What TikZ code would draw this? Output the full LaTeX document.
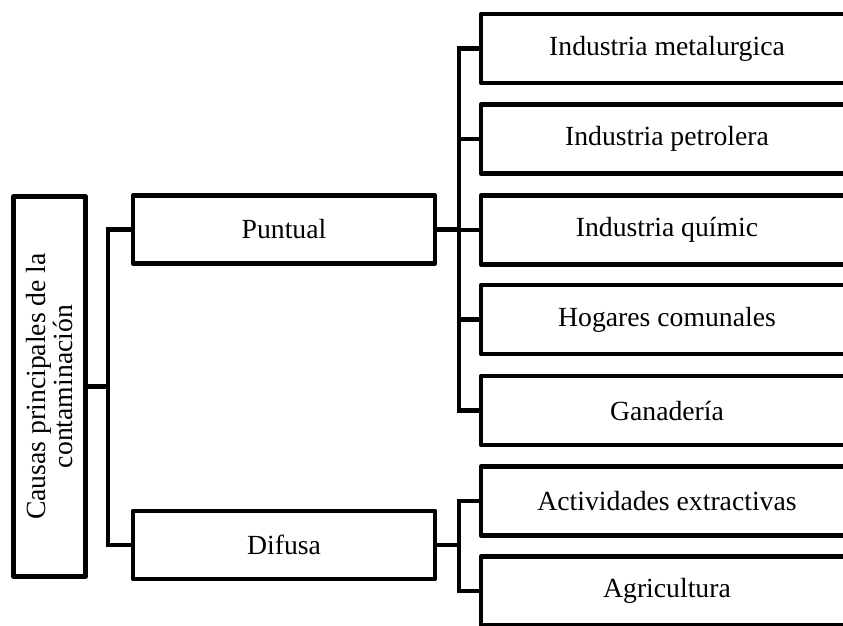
\documentclass[tikz,border=0pt]{standalone}
\usepackage{fontspec}
\setmainfont{Liberation Serif}
\begin{document}
\begin{tikzpicture}[x=1pt,y=-1pt,
  box/.style={draw=black, line width=4.4pt, line join=round, fill=white, inner sep=0pt,
    font=\fontsize{27.7pt}{25pt}\selectfont, align=center},
  conn/.style={draw=black, line width=4.4pt, line join=miter}]
\clip (0,0) rectangle (843,625);
\useasboundingbox (0,0) rectangle (843,625);
% root
\node[box, rotate=90, minimum width=380pt, minimum height=72pt] (root) at (49.5,386.5)
  {Causas principales de la\\contaminación};
% second level
\node[box, minimum width=302pt, minimum height=68pt] (punt) at (284,229.5) {Puntual};
\node[box, minimum width=302pt, minimum height=68pt] (difu) at (284,545) {Difusa};
% third level
\tikzset{leaf/.style={box, minimum width=372pt, minimum height=69pt}}
\node[leaf] (b1) at (667,48.5) {Industria metalurgica};
\node[leaf] (b2) at (667,139) {Industria petrolera};
\node[leaf] (b3) at (667,230) {Industria químic};
\node[leaf] (b4) at (667,319.5) {Hogares comunales};
\node[leaf] (b5) at (667,410.5) {Ganadería};
\node[leaf] (b6) at (667,501) {Actividades extractivas};
\node[leaf] (b7) at (667,591) {Agricultura};
% trunks
\coordinate (tA) at (108,0);
\coordinate (tB) at (459,0);
\draw[conn] (root.south) -- (tA |- root.south);
\draw[conn] (punt.west) -- (tA |- punt.west) -- (tA |- difu.west) -- (difu.west);
\draw[conn] (punt.east) -- (tB |- punt.east);
\draw[conn] (b1.west) -- (tB |- b1.west) -- (tB |- b5.west) -- (b5.west);
\foreach \n in {b2,b3,b4} \draw[conn] (tB |- \n.west) -- (\n.west);
\draw[conn] (difu.east) -- (tB |- difu.east);
\draw[conn] (b6.west) -- (tB |- b6.west) -- (tB |- b7.west) -- (b7.west);
\end{tikzpicture}
\end{document}
